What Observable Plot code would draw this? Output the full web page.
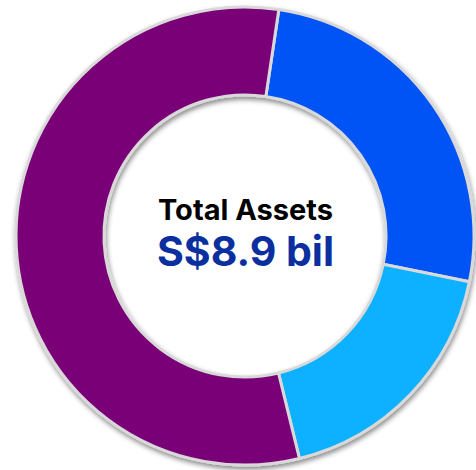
<!DOCTYPE html>
<html>
<head>
<meta charset="utf-8">
<script src="https://cdn.jsdelivr.net/npm/d3@7"></script>
<script src="https://cdn.jsdelivr.net/npm/@observablehq/plot@0.6"></script>
<style>
  html, body { margin: 0; padding: 0; background: #fff; }
  #chart svg { display: block; }
</style>
</head>
<body>
<div id="chart"></div>
<script>
// Data
const categories = ["Category A", "Category B", "Category C"];
const values = [2.3, 1.6, 5.0]; // S$ bil
const colors = ["#0052F5", "#0DB1FF", "#7A0078"];
const titleText = "Total Assets";
const totalText = "S$8.9 bil";

const data = categories.map((c, i) => ({category: c, value: values[i], color: colors[i]}));

const startAngleDeg = 8.5;
const innerRatio = 0.616;

function donutRender(index, scales, values_, dimensions, context) {
  const cx = scales.x(0), cy = scales.y(0);
  const R = (scales.x(1) - scales.x(-1)) / 2;
  const r = R * innerRatio;
  const start = startAngleDeg * Math.PI / 180;
  const pie = d3.pie().sort(null).value(d => d.value)
    .startAngle(start).endAngle(start + 2 * Math.PI);
  const arcs = pie(Array.from(index, i => data[i]));
  const arc = d3.arc().innerRadius(r).outerRadius(R);
  const svg = d3.create("svg:g");
  const defs = svg.append("defs");
  const f = defs.append("filter").attr("id", "shadow")
    .attr("x", "-20%").attr("y", "-20%").attr("width", "140%").attr("height", "140%");
  f.append("feDropShadow").attr("dx", 1).attr("dy", 3).attr("stdDeviation", 2.5)
    .attr("flood-color", "#000").attr("flood-opacity", 0.45);
  const g = svg.append("g").attr("transform", `translate(${cx},${cy})`).attr("filter", "url(#shadow)");
  g.selectAll("path").data(arcs).join("path")
    .attr("d", arc)
    .attr("fill", d => d.data.color)
    .attr("stroke", "#d9d9d9")
    .attr("stroke-width", 3)
    .attr("stroke-linejoin", "round");
  return svg.node();
}

const chart = Plot.plot({
  width: 476,
  height: 470,
  margin: 0,
  x: {domain: [-1, 1], range: [16, 474], axis: null},
  y: {domain: [-1, 1], range: [465, 7], axis: null},
  style: {fontFamily: "Inter, 'Noto Sans', sans-serif", background: "#fff"},
  marks: [
    Plot.dot(data, {x: () => 0, y: () => 0, render: donutRender}),
    Plot.text([titleText], {x: () => 0, y: () => 0, text: d => d, dy: -17, lineAnchor: "bottom",
      textAnchor: "middle", fontSize: 29, fontWeight: 700, fill: "#000"}),
    Plot.text([totalText], {x: () => 0, y: () => 0, text: d => d, dy: 29, lineAnchor: "bottom",
      textAnchor: "middle", fontSize: 41, fontWeight: 700, fill: "#0B2F9F"})
  ]
});
document.getElementById("chart").appendChild(chart);
</script>
</body>
</html>
